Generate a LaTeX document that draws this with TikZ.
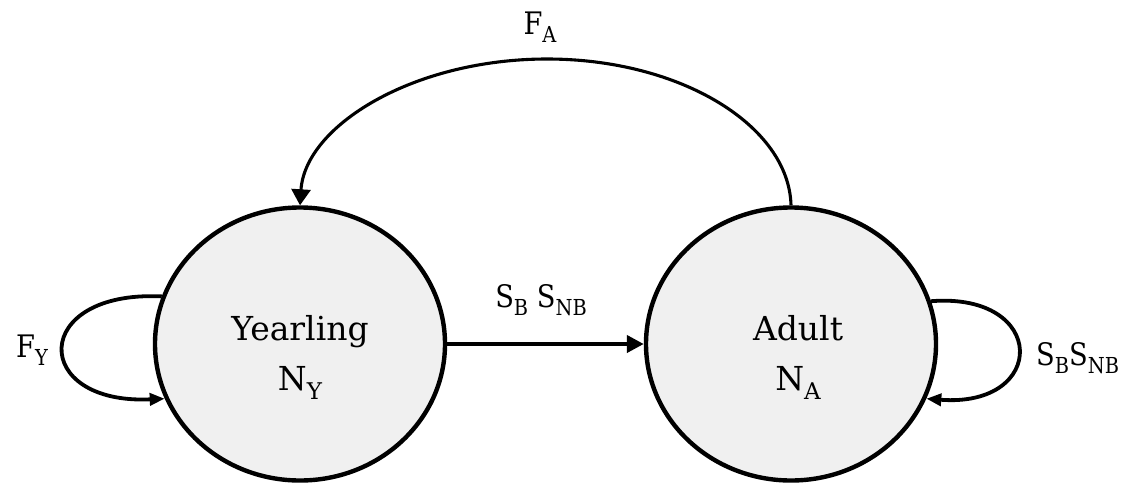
\documentclass[tikz,border=0pt]{standalone}
\usepackage{fontspec}
\setmainfont{DejaVu Serif}
\newfontfamily\lblfont{DejaVu Serif}[FakeStretch=0.88]
\usetikzlibrary{shapes.geometric,arrows.meta}
% lowered index set in a smaller size
\newcommand\lowidx[2][23]{\raisebox{-0.27em}{\fontsize{#1}{#1}\selectfont #2}}
\tikzset{
  stage/.style={ellipse, draw=black, line width=4.4pt, fill=gray!12,
    minimum width=290pt, minimum height=273pt, inner sep=0pt},
  stagetext/.style={align=center, inner sep=0pt,
    font=\fontsize{33}{50}\selectfont},
  flow/.style={line width=4pt, -{Triangle[length=17pt,width=17pt]}},
  loopflow/.style={line width=3.8pt, -{Triangle[length=15pt,width=12pt]}},
  arcflow/.style={line width=3.1pt, -{Triangle[length=16pt,width=19pt]}},
  lbl/.style={font=\lblfont\fontsize{31}{37}\selectfont, inner sep=0pt}
}
\begin{document}
\begin{tikzpicture}[x=1pt,y=-1pt]
  \useasboundingbox (0,0) rectangle (1123,483);
  % the two life stages
  \node[stage] (Y) at (300,344) {};
  \node[stagetext] (Yt) at (300,357) {Yearling\\N\lowidx{Y}};
  \node[stage] (A) at (791,344) {};
  \node[stagetext] (At) at (798,357) {Adult\\N\lowidx{A}};
  % transition from yearling to adult
  \draw[flow] (Y.east) -- (A.west);
  \node[lbl] (sab) at (541,300) {S\lowidx[22]{B} S\lowidx[22]{NB}};
  % adult fecundity back to yearlings
  \coordinate (top) at (547,59);
  \draw[arcflow] (A.north) .. controls (789,126) and (681,59) .. (top)
                 .. controls (413,59) and (305,126) .. (Y.north);
  \node[lbl] (fa) at (540,27) {F\lowidx[22]{A}};
  % yearling self-loop
  \draw[loopflow] (Y.161) .. controls (30,290) and (30,405) .. (Y.202);
  \node[lbl] (fy) at (32,350) {F\lowidx[22]{Y}};
  % adult self-loop
  \draw[loopflow] (A.17) .. controls (1048,292) and (1048,408) .. (A.-22);
  \node[lbl,anchor=west] (saa) at (1036,358) {S\lowidx[22]{B}S\lowidx[22]{NB}};
\end{tikzpicture}
\end{document}
